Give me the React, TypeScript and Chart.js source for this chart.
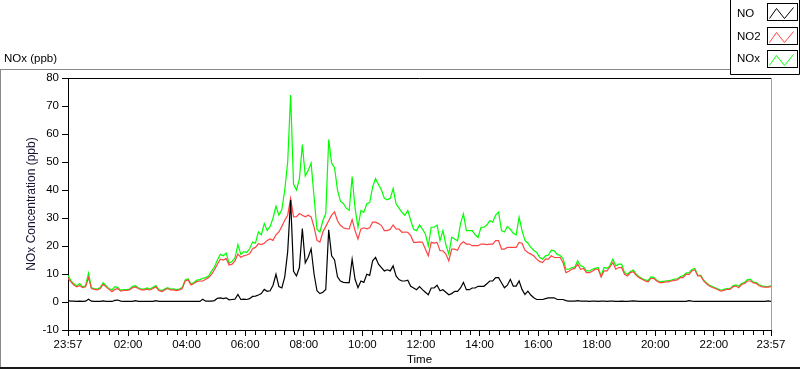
import React, { useEffect, useRef } from "react";
import { Chart, registerables } from "chart.js";

Chart.register(...registerables);

// ---- data (one sample every 6 minutes, starting 23:57) ----
const STEP_MINUTES = 6;
const X_TICK_MINUTES = [0, 123, 243, 363, 483, 603, 723, 843, 963, 1083, 1203, 1323, 1440];
const X_TICK_LABELS = ["23:57", "02:00", "04:00", "06:00", "08:00", "10:00", "12:00", "14:00", "16:00", "18:00", "20:00", "22:00", "23:57"];
const Y_MIN = -10;
const Y_MAX = 80;
const Y_STEP = 10;
const SERIES_NAMES = ["NO", "NO2", "NOx"];
const SERIES_COLORS = ["#000000", "#ff4343", "#00ff00"];

const NO = [
  0.5, 0.3, 0.3, 0.2, 0.3, 0.2, 0.3, 1.0, 0.3, 0.2,
  0.2, 0.2, 0.4, 0.2, 0.2, 0.2, 0.6, 0.7, 0.3, 0.2,
  0.2, 0.2, 0.2, 0.5, 0.2, 0.2, 0.2, 0.2, 0.2, 0.2,
  0.5, 0.2, 0.2, 0.2, 0.2, 0.2, 0.2, 0.2, 0.2, 0.2,
  0.2, 0.2, 0.2, 0.2, 0.2, 0.2, 1.0, 0.3, 0.3, 0.3,
  0.5, 1.3, 1.5, 1.2, 1.5, 0.8, 0.9, 1.0, 2.7, 0.9,
  1.0, 0.9, 1.2, 2.0, 2.1, 2.5, 3.0, 4.5, 3.8, 4.0,
  6.0, 9.9, 5.5, 5.0, 9.0, 18.0, 36.4, 11.0, 9.3, 12.3,
  26.2, 14.0, 16.0, 19.0, 10.0, 4.0, 3.0, 3.5, 4.5, 25.8,
  16.5, 15.0, 9.0, 7.5, 7.0, 6.9, 6.9, 15.3, 8.1, 5.1,
  7.5, 7.0, 9.9, 9.5, 14.7, 15.9, 13.5, 12.3, 11.1, 11.5,
  11.1, 12.9, 9.3, 8.0, 7.5, 7.5, 7.8, 5.6, 5.0, 4.4,
  5.5, 4.4, 3.5, 2.6, 5.0, 5.0, 6.0, 4.0, 4.4, 3.5,
  2.6, 3.0, 3.8, 3.8, 5.0, 7.0, 4.4, 4.4, 5.0, 5.0,
  5.6, 5.6, 5.6, 6.5, 7.5, 7.5, 8.7, 8.7, 6.9, 5.1,
  6.0, 8.1, 5.7, 5.7, 7.5, 4.5, 2.7, 3.9, 2.5, 1.5,
  0.9, 0.9, 0.9, 1.2, 1.5, 1.5, 1.5, 0.9, 0.9, 0.9,
  0.5, 0.3, 0.3, 0.3, 0.5, 0.3, 0.3, 0.3, 0.2, 0.3,
  0.3, 0.2, 0.3, 0.3, 0.2, 0.3, 0.3, 0.2, 0.2, 0.3,
  0.2, 0.2, 0.3, 0.4, 0.3, 0.2, 0.2, 0.2, 0.2, 0.2,
  0.2, 0.2, 0.2, 0.2, 0.2, 0.2, 0.2, 0.2, 0.2, 0.2,
  0.2, 0.2, 0.5, 0.3, 0.2, 0.2, 0.2, 0.2, 0.2, 0.2,
  0.2, 0.2, 0.2, 0.2, 0.2, 0.2, 0.2, 0.2, 0.2, 0.2,
  0.2, 0.2, 0.2, 0.2, 0.2, 0.2, 0.2, 0.2, 0.2, 0.4,
  0.2,
];

const NO2 = [
  8.5, 7.2, 6.1, 5.4, 5.8, 5.1, 5.4, 8.7, 4.8, 4.5,
  4.3, 4.8, 6.3, 5.4, 4.5, 3.7, 4.5, 4.8, 3.9, 4.1,
  4.1, 4.3, 5.1, 5.4, 4.8, 4.3, 4.3, 4.6, 4.3, 4.8,
  5.4, 4.1, 3.7, 4.3, 4.8, 4.3, 4.3, 4.1, 4.3, 4.8,
  7.5, 7.9, 6.1, 6.6, 7.3, 7.5, 7.5, 8.1, 8.7, 9.9,
  11.5, 13.5, 15.3, 15.0, 15.5, 13.2, 13.5, 14.7, 17.1, 16.0,
  16.5, 16.8, 17.2, 19.0, 19.5, 20.8, 20.5, 21.0, 22.0, 22.5,
  22.0, 24.0, 25.0, 27.0, 29.2, 31.0, 37.0, 30.4, 30.5, 31.6,
  31.0, 30.4, 31.0, 30.4, 26.8, 22.0, 21.4, 25.0, 27.0, 29.0,
  31.0, 32.2, 29.0, 27.4, 26.5, 26.2, 26.1, 29.4, 25.5, 22.5,
  26.1, 26.5, 26.1, 26.5, 28.5, 28.5, 28.0, 27.3, 25.5, 25.5,
  26.0, 27.5, 26.1, 26.0, 24.9, 25.0, 24.9, 23.7, 21.3, 21.3,
  21.5, 21.3, 18.9, 16.5, 21.3, 21.0, 21.3, 18.3, 18.3, 17.1,
  14.7, 18.9, 18.9, 18.5, 20.7, 21.5, 20.7, 20.7, 20.1, 20.1,
  20.1, 20.7, 20.7, 20.5, 20.7, 20.7, 21.9, 21.9, 18.9, 18.9,
  19.5, 19.5, 19.5, 19.5, 21.3, 21.0, 18.5, 17.7, 17.1, 16.5,
  15.3, 14.5, 14.1, 15.3, 15.3, 16.5, 15.9, 15.9, 15.9, 14.1,
  10.5, 11.0, 11.7, 12.0, 13.5, 11.7, 12.0, 10.5, 10.5, 11.0,
  11.7, 11.7, 8.9, 11.1, 11.1, 12.5, 14.1, 11.7, 12.3, 12.3,
  9.9, 9.3, 10.5, 10.8, 9.5, 8.7, 8.1, 7.5, 7.2, 8.4,
  8.4, 7.5, 6.9, 6.9, 7.2, 7.2, 7.5, 7.7, 7.9, 8.7,
  8.7, 9.9, 9.9, 11.1, 11.5, 9.3, 9.3, 7.5, 6.5, 5.7,
  5.2, 4.8, 4.3, 3.9, 4.2, 4.5, 4.5, 5.4, 5.7, 5.1,
  6.3, 6.6, 7.5, 7.5, 6.8, 6.6, 5.8, 5.4, 5.3, 5.3,
  5.5,
];

const NOX = [
  9.5, 7.6, 6.5, 5.8, 6.6, 5.4, 5.8, 10.3, 5.1, 4.8,
  4.6, 5.2, 6.9, 5.8, 4.8, 4.3, 5.5, 5.2, 4.2, 4.4,
  4.4, 4.6, 5.6, 5.8, 5.1, 4.6, 4.6, 5.0, 4.6, 5.3,
  5.9, 4.4, 4.1, 4.6, 5.1, 4.6, 4.7, 4.4, 4.6, 5.2,
  7.9, 8.3, 6.4, 7.0, 7.8, 8.0, 8.5, 8.7, 9.3, 11.0,
  12.5, 15.0, 17.0, 16.5, 17.5, 13.8, 14.5, 15.8, 20.5, 17.0,
  18.0, 17.7, 19.0, 21.4, 21.0, 25.0, 24.0, 28.0, 25.5, 27.0,
  30.0, 34.2, 31.0, 33.0, 40.0, 50.0, 73.9, 42.0, 40.0, 44.0,
  56.2, 45.0, 47.0, 49.6, 37.6, 26.0, 25.0, 29.0, 31.6, 58.0,
  49.6, 48.0, 40.0, 36.0, 35.2, 33.5, 32.7, 44.8, 33.5, 26.7,
  32.7, 32.0, 35.1, 35.5, 41.1, 44.1, 42.0, 40.0, 37.0, 36.5,
  37.0, 40.5, 35.1, 33.5, 32.0, 31.0, 32.7, 29.1, 26.0, 25.5,
  27.5, 26.0, 24.3, 20.0, 26.7, 26.7, 27.5, 21.9, 25.5, 20.5,
  17.1, 23.1, 22.5, 21.9, 28.0, 31.5, 25.5, 25.5, 25.5, 24.0,
  23.1, 26.7, 26.7, 27.5, 29.1, 28.5, 31.0, 32.1, 25.5, 25.0,
  27.0, 26.0, 24.5, 24.0, 30.3, 25.5, 22.0, 21.0, 19.5, 18.5,
  17.7, 16.0, 15.3, 16.5, 16.8, 18.5, 18.3, 17.0, 16.6, 15.5,
  11.7, 11.7, 12.3, 12.5, 14.7, 12.9, 12.5, 11.1, 11.1, 11.7,
  12.0, 12.3, 9.3, 12.3, 12.0, 13.0, 15.3, 12.9, 13.5, 13.5,
  10.5, 9.9, 10.9, 11.4, 9.9, 9.0, 8.4, 7.9, 7.6, 9.0,
  8.8, 7.8, 7.2, 7.4, 7.5, 7.6, 7.8, 8.2, 8.3, 9.0,
  9.4, 10.3, 10.5, 11.6, 12.0, 9.6, 9.5, 7.8, 6.8, 6.0,
  5.5, 5.1, 4.6, 4.2, 4.5, 4.8, 4.7, 5.8, 6.1, 5.7,
  6.6, 7.0, 8.0, 8.1, 7.1, 6.9, 6.1, 5.8, 5.6, 5.5,
  5.8,
];

const FONT = "'Liberation Sans', Arial, sans-serif";

const toPoints = (arr: number[]) => arr.map((v, i) => ({ x: i * STEP_MINUTES, y: v }));

const decorPlugin = {
  id: "labviewDecor",
  beforeDraw(chart: any) {
    const ctx = chart.ctx;
    ctx.save();
    ctx.fillStyle = "#ffffff";
    ctx.fillRect(0, 0, chart.width, chart.height);
    ctx.restore();
  },
  afterDraw(chart: any) {
    const ctx: CanvasRenderingContext2D = chart.ctx;
    const { left, right, top, bottom } = chart.chartArea;
    const xs = chart.scales.x;
    ctx.save();
    ctx.lineWidth = 1;

    // plot frame: top black, right gray
    ctx.strokeStyle = "#000";
    ctx.beginPath();
    ctx.moveTo(left, top + 0.5);
    ctx.lineTo(right, top + 0.5);
    ctx.stroke();
    ctx.strokeStyle = "#a0a0a0";
    ctx.beginPath();
    ctx.moveTo(right + 0.5, top);
    ctx.lineTo(right + 0.5, bottom);
    ctx.stroke();

    // minor x ticks every 20 minutes (clock aligned)
    ctx.strokeStyle = "#000";
    for (let m = 3; m < 1440; m += 20) {
      if ((m - 3) % 120 === 0) continue;
      const px = Math.round(xs.getPixelForValue(m)) + 0.5;
      ctx.beginPath();
      ctx.moveTo(px, bottom + 1);
      ctx.lineTo(px, bottom + 5);
      ctx.stroke();
    }

    // outer panel frame
    ctx.strokeStyle = "#8a8a8a";
    ctx.beginPath();
    ctx.moveTo(0, 69.5);
    ctx.lineTo(730, 69.5);
    ctx.moveTo(0.5, 69);
    ctx.lineTo(0.5, 369);
    ctx.stroke();
    ctx.fillStyle = "#1a1a1a";
    ctx.fillRect(0, 367, 800, 2);

    // legend box
    ctx.strokeStyle = "#000";
    ctx.beginPath();
    ctx.moveTo(730.5, 0);
    ctx.lineTo(730.5, 74.5);
    ctx.lineTo(799.5, 74.5);
    ctx.lineTo(799.5, 0);
    ctx.stroke();

    ctx.font = `11.5px ${FONT}`;
    ctx.textBaseline = "middle";
    ctx.textAlign = "left";
    const boxTops = [3, 27, 50];
    const textYs = [13.5, 36.5, 58.5];
    chart.data.datasets.forEach((ds: any, i: number) => {
      ctx.fillStyle = "#000";
      ctx.fillText(ds.label, 737, textYs[i]);
      const bx = 767.5;
      const by = boxTops[i] + 0.5;
      ctx.strokeStyle = "#000";
      ctx.strokeRect(bx, by, 30, 17);
      ctx.strokeStyle = ds.borderColor;
      ctx.beginPath();
      ctx.moveTo(bx + 2, by + 15);
      ctx.lineTo(bx + 9, by + 5);
      ctx.lineTo(bx + 17, by + 15);
      ctx.lineTo(bx + 26, by + 4);
      ctx.stroke();
    });

    // titles
    ctx.fillStyle = "#000";
    ctx.font = `11.5px ${FONT}`;
    ctx.textAlign = "left";
    ctx.fillText("NOx (ppb)", 4, 59);

    ctx.textAlign = "center";
    ctx.fillText("Time", (left + right) / 2, 360);

    ctx.save();
    ctx.translate(32, (top + bottom) / 2);
    ctx.rotate(-Math.PI / 2);
    ctx.font = `12px ${FONT}`;
    ctx.fillStyle = "#1a1030";
    ctx.fillText("NOx Concentration (ppb)", 0, 0);
    ctx.restore();

    ctx.restore();
  },
};

export default function App() {
  const canvasRef = useRef<HTMLCanvasElement | null>(null);

  useEffect(() => {
    document.body.style.margin = "0";
    const canvas = canvasRef.current;
    if (!canvas) return;
    Chart.defaults.font.family = FONT;
    Chart.defaults.color = "#000";

    const seriesData = [NO, NO2, NOX];
    const chart = new Chart(canvas, {
      type: "line",
      data: {
        datasets: SERIES_NAMES.map((name, i) => ({
          label: name,
          data: toPoints(seriesData[i]),
          borderColor: SERIES_COLORS[i],
          backgroundColor: SERIES_COLORS[i],
          borderWidth: 1.2,
          pointRadius: 0,
          tension: 0,
          fill: false,
        })),
      },
      options: {
        animation: false,
        responsive: false,
        maintainAspectRatio: false,
        devicePixelRatio: 1,
        events: [],
        layout: { padding: { left: 0, top: 78, right: 29, bottom: 0 } },
        plugins: {
          legend: { display: false },
          title: { display: false },
          tooltip: { enabled: false },
        },
        scales: {
          x: {
            type: "linear",
            min: 0,
            max: 1440,
            afterBuildTicks: (scale: any) => {
              scale.ticks = X_TICK_MINUTES.map((v) => ({ value: v }));
            },
            afterFit: (scale: any) => {
              scale.height = 39;
            },
            ticks: {
              autoSkip: false,
              maxRotation: 0,
              minRotation: 0,
              padding: 2,
              color: "#000",
              font: { size: 11.5, family: FONT },
              callback: (value: any) => {
                const idx = X_TICK_MINUTES.indexOf(Number(value));
                return idx >= 0 ? X_TICK_LABELS[idx] : "";
              },
            },
            grid: {
              display: true,
              drawOnChartArea: false,
              drawTicks: true,
              tickLength: 6,
              color: "#000",
            },
            border: { display: true, color: "#000", width: 1 },
          },
          y: {
            type: "linear",
            min: Y_MIN,
            max: Y_MAX,
            afterFit: (scale: any) => {
              scale.width = 68;
            },
            ticks: {
              stepSize: Y_STEP,
              padding: 3,
              color: "#000",
              font: { size: 11.5, family: FONT },
            },
            grid: {
              display: true,
              drawOnChartArea: false,
              drawTicks: true,
              tickLength: 6,
              color: "#000",
            },
            border: { display: true, color: "#000", width: 1 },
          },
        },
      },
      plugins: [decorPlugin],
    } as any);

    return () => {
      chart.destroy();
    };
  }, []);

  return (
    <div style={{ width: 800, height: 369, position: "relative" }}>
      <canvas ref={canvasRef} width={800} height={369} style={{ display: "block", width: 800, height: 369 }} />
    </div>
  );
}
